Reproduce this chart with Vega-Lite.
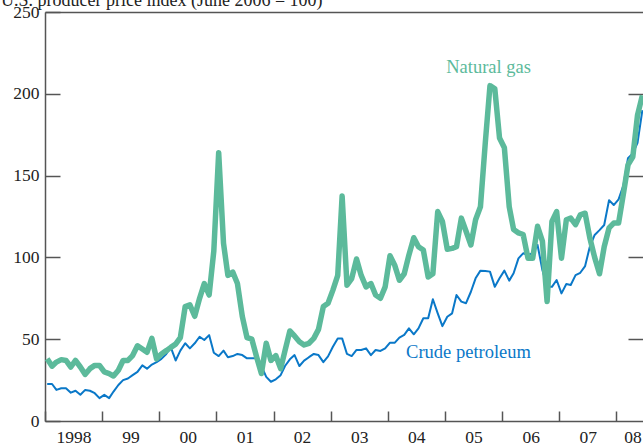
{
  "$schema": "https://vega.github.io/schema/vega-lite/v6.json",
  "width": 598,
  "height": 409,
  "autosize": {"type": "none"},
  "padding": {"left": 45, "top": 12, "right": 0, "bottom": 24},
  "background": "white",
  "config": {
    "view": {"stroke": null},
    "font": "Liberation Serif",
    "axis": {
      "domainColor": "#555",
      "domainWidth": 1.5,
      "tickColor": "#555",
      "tickWidth": 1.5,
      "labelFont": "Liberation Serif",
      "labelFontSize": 17.5,
      "labelColor": "#222",
      "grid": false,
      "title": null,
      "labelOverlap": false,
      "labelBound": false,
      "labelFlush": false
    }
  },
  "data": {
    "values": [
      {"d": "1998-01-15", "gas": 38, "crude": 22.6},
      {"d": "1998-02-15", "gas": 33.5, "crude": 22.6},
      {"d": "1998-03-15", "gas": 36, "crude": 19},
      {"d": "1998-04-15", "gas": 37.5, "crude": 20},
      {"d": "1998-05-15", "gas": 37, "crude": 20},
      {"d": "1998-06-15", "gas": 33, "crude": 17.3},
      {"d": "1998-07-15", "gas": 37, "crude": 18.5},
      {"d": "1998-08-15", "gas": 33, "crude": 16},
      {"d": "1998-09-15", "gas": 28.5, "crude": 19},
      {"d": "1998-10-15", "gas": 32, "crude": 18.5},
      {"d": "1998-11-15", "gas": 34, "crude": 17},
      {"d": "1998-12-15", "gas": 34, "crude": 14},
      {"d": "1999-01-15", "gas": 30, "crude": 16},
      {"d": "1999-02-15", "gas": 29, "crude": 14},
      {"d": "1999-03-15", "gas": 27.5, "crude": 18},
      {"d": "1999-04-15", "gas": 31, "crude": 22},
      {"d": "1999-05-15", "gas": 37, "crude": 25},
      {"d": "1999-06-15", "gas": 37, "crude": 26},
      {"d": "1999-07-15", "gas": 40, "crude": 28},
      {"d": "1999-08-15", "gas": 46, "crude": 30},
      {"d": "1999-09-15", "gas": 44, "crude": 34},
      {"d": "1999-10-15", "gas": 42, "crude": 32},
      {"d": "1999-11-15", "gas": 50.5, "crude": 34.5},
      {"d": "1999-12-15", "gas": 38, "crude": 36},
      {"d": "2000-01-15", "gas": 41, "crude": 38},
      {"d": "2000-02-15", "gas": 43, "crude": 41},
      {"d": "2000-03-15", "gas": 45, "crude": 45},
      {"d": "2000-04-15", "gas": 47, "crude": 37},
      {"d": "2000-05-15", "gas": 51, "crude": 43},
      {"d": "2000-06-15", "gas": 70, "crude": 47.5},
      {"d": "2000-07-15", "gas": 71, "crude": 44.4},
      {"d": "2000-08-15", "gas": 64, "crude": 47.5},
      {"d": "2000-09-15", "gas": 75, "crude": 51.5},
      {"d": "2000-10-15", "gas": 84, "crude": 49.5},
      {"d": "2000-11-15", "gas": 77, "crude": 52.5},
      {"d": "2000-12-15", "gas": 104, "crude": 41.7},
      {"d": "2001-01-15", "gas": 164, "crude": 39.7},
      {"d": "2001-02-15", "gas": 108.6, "crude": 43},
      {"d": "2001-03-15", "gas": 89, "crude": 39},
      {"d": "2001-04-15", "gas": 91, "crude": 39.7},
      {"d": "2001-05-15", "gas": 84, "crude": 41},
      {"d": "2001-06-15", "gas": 64, "crude": 40.3},
      {"d": "2001-07-15", "gas": 51, "crude": 38.3},
      {"d": "2001-08-15", "gas": 50, "crude": 38.3},
      {"d": "2001-09-15", "gas": 39, "crude": 38.3},
      {"d": "2001-10-15", "gas": 29, "crude": 33.6},
      {"d": "2001-11-15", "gas": 47.5, "crude": 27},
      {"d": "2001-12-15", "gas": 37, "crude": 24},
      {"d": "2002-01-15", "gas": 40, "crude": 25.5},
      {"d": "2002-02-15", "gas": 32, "crude": 28},
      {"d": "2002-03-15", "gas": 43, "crude": 33.6},
      {"d": "2002-04-15", "gas": 55, "crude": 37.7},
      {"d": "2002-05-15", "gas": 52, "crude": 40.3},
      {"d": "2002-06-15", "gas": 48.5, "crude": 33.6},
      {"d": "2002-07-15", "gas": 46.5, "crude": 36.9},
      {"d": "2002-08-15", "gas": 47.5, "crude": 39},
      {"d": "2002-09-15", "gas": 50.5, "crude": 41},
      {"d": "2002-10-15", "gas": 56, "crude": 40.3},
      {"d": "2002-11-15", "gas": 70, "crude": 36},
      {"d": "2002-12-15", "gas": 72, "crude": 39.5},
      {"d": "2003-01-15", "gas": 80, "crude": 45.4},
      {"d": "2003-02-15", "gas": 89, "crude": 50.5},
      {"d": "2003-03-15", "gas": 137.5, "crude": 50.5},
      {"d": "2003-04-15", "gas": 83, "crude": 41},
      {"d": "2003-05-15", "gas": 87, "crude": 39.7},
      {"d": "2003-06-15", "gas": 99, "crude": 43.4},
      {"d": "2003-07-15", "gas": 89, "crude": 43.4},
      {"d": "2003-08-15", "gas": 82, "crude": 44.4},
      {"d": "2003-09-15", "gas": 84, "crude": 40.3},
      {"d": "2003-10-15", "gas": 77, "crude": 43.4},
      {"d": "2003-11-15", "gas": 75, "crude": 42.8},
      {"d": "2003-12-15", "gas": 82, "crude": 44.4},
      {"d": "2004-01-15", "gas": 101, "crude": 47.9},
      {"d": "2004-02-15", "gas": 95, "crude": 47.9},
      {"d": "2004-03-15", "gas": 86, "crude": 51},
      {"d": "2004-04-15", "gas": 90, "crude": 52.6},
      {"d": "2004-05-15", "gas": 101.5, "crude": 56.6},
      {"d": "2004-06-15", "gas": 112, "crude": 53},
      {"d": "2004-07-15", "gas": 106.5, "crude": 56.6},
      {"d": "2004-08-15", "gas": 104.5, "crude": 62.8},
      {"d": "2004-09-15", "gas": 88, "crude": 62.8},
      {"d": "2004-10-15", "gas": 90, "crude": 74.4},
      {"d": "2004-11-15", "gas": 128, "crude": 65.8},
      {"d": "2004-12-15", "gas": 122, "crude": 58},
      {"d": "2005-01-15", "gas": 105, "crude": 63.7},
      {"d": "2005-02-15", "gas": 105.5, "crude": 65.8},
      {"d": "2005-03-15", "gas": 106.5, "crude": 77},
      {"d": "2005-04-15", "gas": 124, "crude": 73},
      {"d": "2005-05-15", "gas": 116, "crude": 72},
      {"d": "2005-06-15", "gas": 107.6, "crude": 79},
      {"d": "2005-07-15", "gas": 123, "crude": 87.2},
      {"d": "2005-08-15", "gas": 131, "crude": 91.9},
      {"d": "2005-09-15", "gas": 170, "crude": 91.7},
      {"d": "2005-10-15", "gas": 205, "crude": 91.3},
      {"d": "2005-11-15", "gas": 203, "crude": 82},
      {"d": "2005-12-15", "gas": 173, "crude": 87.2},
      {"d": "2006-01-15", "gas": 167, "crude": 91.9},
      {"d": "2006-02-15", "gas": 131, "crude": 85.8},
      {"d": "2006-03-15", "gas": 117, "crude": 90.3},
      {"d": "2006-04-15", "gas": 115, "crude": 99.4},
      {"d": "2006-05-15", "gas": 114, "crude": 102.5},
      {"d": "2006-06-15", "gas": 99.5, "crude": 101.5},
      {"d": "2006-07-15", "gas": 99.5, "crude": 102.5},
      {"d": "2006-08-15", "gas": 119, "crude": 107.6},
      {"d": "2006-09-15", "gas": 110, "crude": 92.3},
      {"d": "2006-10-15", "gas": 73, "crude": 82},
      {"d": "2006-11-15", "gas": 122, "crude": 82},
      {"d": "2006-12-15", "gas": 128, "crude": 86.2},
      {"d": "2007-01-15", "gas": 99.5, "crude": 78},
      {"d": "2007-02-15", "gas": 123, "crude": 83.7},
      {"d": "2007-03-15", "gas": 124, "crude": 83.1},
      {"d": "2007-04-15", "gas": 120, "crude": 89.2},
      {"d": "2007-05-15", "gas": 126, "crude": 90.6},
      {"d": "2007-06-15", "gas": 127, "crude": 94.7},
      {"d": "2007-07-15", "gas": 112, "crude": 106.5},
      {"d": "2007-08-15", "gas": 100, "crude": 113.7},
      {"d": "2007-09-15", "gas": 90, "crude": 116.7},
      {"d": "2007-10-15", "gas": 106.5, "crude": 119.8},
      {"d": "2007-11-15", "gas": 118, "crude": 135},
      {"d": "2007-12-15", "gas": 121, "crude": 132},
      {"d": "2008-01-15", "gas": 121, "crude": 135.5},
      {"d": "2008-02-15", "gas": 139, "crude": 144},
      {"d": "2008-03-15", "gas": 156.5, "crude": 160.6},
      {"d": "2008-04-15", "gas": 161.5, "crude": 163.6},
      {"d": "2008-05-15", "gas": 187, "crude": 170},
      {"d": "2008-06-15", "gas": 199, "crude": 190}
    ]
  },
  "layer": [
    {
      "mark": {"type": "line", "color": "#0a78c8", "strokeWidth": 2, "strokeJoin": "round"},
      "encoding": {
        "x": {
          "field": "d",
          "type": "temporal",
          "scale": {
            "type": "utc",
            "domain": [
              {"year": 1998, "month": 1, "date": 1, "utc": true},
              {"year": 2008, "month": 6, "date": 19, "utc": true}
            ],
            "nice": false
          },
          "axis": {
            "orient": "bottom",
            "values": [
              {"year": 1998, "month": 1, "date": 1, "utc": true},
              {"year": 1999, "month": 1, "date": 1, "utc": true},
              {"year": 2000, "month": 1, "date": 1, "utc": true},
              {"year": 2001, "month": 1, "date": 1, "utc": true},
              {"year": 2002, "month": 1, "date": 1, "utc": true},
              {"year": 2003, "month": 1, "date": 1, "utc": true},
              {"year": 2004, "month": 1, "date": 1, "utc": true},
              {"year": 2005, "month": 1, "date": 1, "utc": true},
              {"year": 2006, "month": 1, "date": 1, "utc": true},
              {"year": 2007, "month": 1, "date": 1, "utc": true},
              {"year": 2008, "month": 1, "date": 1, "utc": true}
            ],
            "labelExpr": "utcyear(datum.value) == 1998 ? '1998' : utcFormat(datum.value, '%y')",
            "labelOffset": {"condition": {"test": "utcyear(datum.value) == 2008", "value": 16}, "value": 28.5},
            "tickSize": -10,
            "labelPadding": 17,
            "labelAlign": "center"
          }
        },
        "y": {
          "field": "crude",
          "type": "quantitative",
          "scale": {"domain": [0, 250], "nice": false, "zero": true},
          "axis": {
            "orient": "left",
            "values": [0, 50, 100, 150, 200, 250],
            "tickSize": -15,
            "labelPadding": 21
          }
        }
      }
    },
    {
      "mark": {"type": "line", "color": "#5cba9b", "strokeWidth": 5.5, "strokeJoin": "round"},
      "encoding": {
        "x": {
          "field": "d",
          "type": "temporal",
          "axis": {"orient": "top", "labels": false, "ticks": false, "domain": true}
        },
        "y": {
          "field": "gas",
          "type": "quantitative",
          "axis": {
            "orient": "right",
            "values": [50, 100, 150, 200],
            "labels": false,
            "domain": false,
            "tickSize": -15
          }
        }
      }
    },
    {
      "data": {"values": [{"d": "2005-10-06", "v": 216.4, "t": "Natural gas"}]},
      "mark": {"type": "text", "color": "#5cba9b", "fontSize": 18.5, "font": "Liberation Serif", "align": "center", "baseline": "middle"},
      "encoding": {
        "x": {"field": "d", "type": "temporal", "axis": null},
        "y": {"field": "v", "type": "quantitative", "axis": null},
        "text": {"field": "t"}
      }
    },
    {
      "data": {"values": [{"d": "2005-05-31", "v": 42.2, "t": "Crude petroleum"}]},
      "mark": {"type": "text", "color": "#0a78c8", "fontSize": 18.5, "font": "Liberation Serif", "align": "center", "baseline": "middle"},
      "encoding": {
        "x": {"field": "d", "type": "temporal", "axis": null},
        "y": {"field": "v", "type": "quantitative", "axis": null},
        "text": {"field": "t"}
      }
    },
    {
      "data": {"values": [{"d": "1998-01-01", "v": 253.6, "t": "U.S. producer price index (June 2006 = 100)"}]},
      "mark": {"type": "text", "color": "#222", "fontSize": 18, "font": "Liberation Serif", "align": "left", "baseline": "alphabetic", "dx": -44},
      "encoding": {
        "x": {"field": "d", "type": "temporal", "axis": null},
        "y": {"field": "v", "type": "quantitative", "axis": null},
        "text": {"field": "t"}
      }
    }
  ],
  "resolve": {"axis": {"x": "independent", "y": "independent"}}
}
